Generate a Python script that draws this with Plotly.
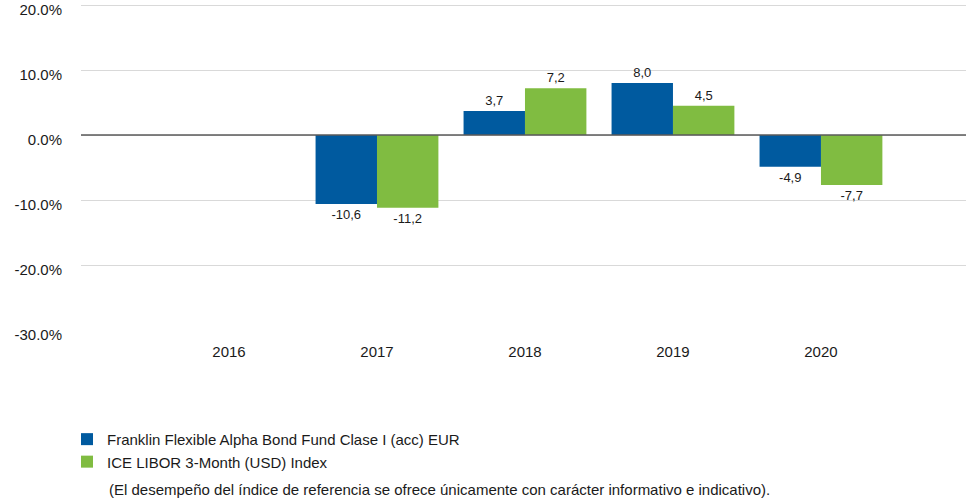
import plotly.graph_objects as go

years = ["2016", "2017", "2018", "2019", "2020"]
fund_name = "Franklin Flexible Alpha Bond Fund Clase I (acc) EUR"
index_name = "ICE LIBOR 3-Month (USD) Index"
fund_values = [None, -10.6, 3.7, 8.0, -4.9]
index_values = [None, -11.2, 7.2, 4.5, -7.7]
y_ticks = [20, 10, 0, -10, -20, -30]
y_tick_labels = ["20.0%", "10.0%", "0.0%", "-10.0%", "-20.0%", "-30.0%"]
footnote = "(El desempeño del índice de referencia se ofrece únicamente con carácter informativo e indicativo)."

FONT = "Liberation Sans, Arial, sans-serif"
BLUE = "#005A9F"
GREEN = "#80BC41"
TXT = "#1a1a1a"


def fmt(vals):
    return ["" if v is None else f"{v:.1f}".replace(".", ",") for v in vals]


fig = go.Figure()
fig.add_trace(go.Bar(
    x=years, y=fund_values, name=fund_name, marker_color=BLUE,
    marker_line_width=0,
    text=fmt(fund_values), textposition="outside", cliponaxis=False,
    textfont=dict(size=13, color=TXT, family=FONT),
))
fig.add_trace(go.Bar(
    x=years, y=index_values, name=index_name, marker_color=GREEN,
    marker_line_width=0,
    text=fmt(index_values), textposition="outside", cliponaxis=False,
    textfont=dict(size=13, color=TXT, family=FONT),
))

fig.update_layout(
    width=966, height=500,
    margin=dict(l=81, r=0, t=0, b=170, autoexpand=False),
    paper_bgcolor="white", plot_bgcolor="white",
    barmode="group", bargap=0.17, bargroupgap=0,
    font=dict(family=FONT, size=15, color=TXT),
    showlegend=True,
    legend=dict(
        orientation="v", x=-0.0158, xanchor="left", y=-0.2815, yanchor="top",
        font=dict(size=15, family=FONT, color=TXT),
        tracegroupgap=0, traceorder="normal",
    ),
    xaxis=dict(
        type="category", range=[-1, 4.98], showgrid=False, showline=False,
        automargin=False,
        ticks="outside", ticklen=8, tickcolor="rgba(0,0,0,0)",
        tickfont=dict(size=15, family=FONT, color=TXT),
    ),
    yaxis=dict(
        range=[-30, 20.77], tickvals=y_ticks, ticktext=y_tick_labels,
        automargin=False,
        showgrid=True, gridcolor="#D9D9D9", gridwidth=1,
        zeroline=False,
        ticks="outside", ticklen=15, tickcolor="rgba(0,0,0,0)",
        tickfont=dict(size=15, family=FONT, color=TXT),
        ticklabelshift=5, ticklabeloverflow="allow",
        showline=False,
    ),
    shapes=[dict(
        type="line", xref="paper", x0=0, x1=1, yref="y", y0=0, y1=0,
        line=dict(color="#5a5a5a", width=1.5), layer="above",
    )],
    annotations=[dict(
        text=footnote, xref="paper", yref="paper", x=0.0294, y=-0.483,
        xanchor="left", yanchor="middle", showarrow=False,
        font=dict(size=15, family=FONT, color=TXT),
    )],
)

fig.write_html(
    "out.html",
    config={"displayModeBar": False},
    post_script="document.body.style.margin='0px';",
)
